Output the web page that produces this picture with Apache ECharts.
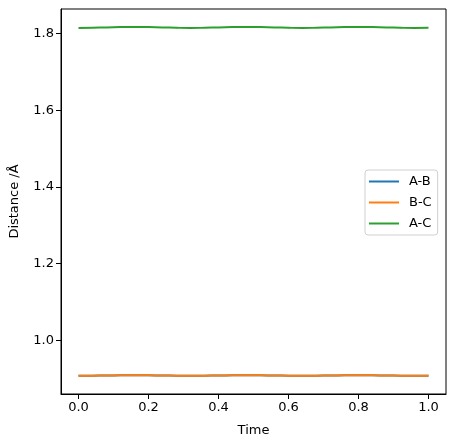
<!DOCTYPE html>
<html>
<head>
<meta charset="utf-8">
<script src="https://cdn.jsdelivr.net/npm/echarts@6/dist/echarts.min.js"></script>
<style>
  html, body { margin: 0; padding: 0; background: #fff; }
  #chart { width: 458px; height: 442px; }
</style>
</head>
<body>
<div id="chart"></div>
<script>
// values
var times = [0, 0.04, 0.08, 0.12, 0.16, 0.20, 0.24, 0.28, 0.32, 0.36, 0.40, 0.44, 0.48,
             0.52, 0.56, 0.60, 0.64, 0.68, 0.72, 0.76, 0.80, 0.84, 0.88, 0.92, 0.96, 1.0];
var distAB = [0.9077, 0.9079, 0.9083, 0.9087, 0.9089, 0.9087, 0.9083, 0.9079, 0.9077, 0.9079, 0.9083, 0.9087, 0.9089,
              0.9087, 0.9083, 0.9079, 0.9077, 0.9079, 0.9083, 0.9087, 0.9089, 0.9087, 0.9083, 0.9079, 0.9077, 0.9078];
var distBC = [0.9077, 0.9079, 0.9083, 0.9087, 0.9089, 0.9087, 0.9083, 0.9079, 0.9077, 0.9079, 0.9083, 0.9087, 0.9089,
              0.9087, 0.9083, 0.9079, 0.9077, 0.9079, 0.9083, 0.9087, 0.9089, 0.9087, 0.9083, 0.9079, 0.9077, 0.9078];
var distAC = [1.8145, 1.8150, 1.8160, 1.8168, 1.8172, 1.8168, 1.8160, 1.8150, 1.8145, 1.8150, 1.8160, 1.8168, 1.8172,
              1.8168, 1.8160, 1.8150, 1.8145, 1.8150, 1.8160, 1.8168, 1.8172, 1.8168, 1.8160, 1.8150, 1.8145, 1.8148];
var xTicks = [0, 0.2, 0.4, 0.6, 0.8, 1.0];
var yTicks = [1.0, 1.2, 1.4, 1.6, 1.8];

function pairs(xs, ys) {
    var out = [];
    for (var i = 0; i < xs.length; i++) out.push([xs[i], ys[i]]);
    return out;
}

var chart = echarts.init(document.getElementById('chart'));
var font = 'DejaVu Sans';
var option = {
    animation: false,
    textStyle: { fontFamily: font },
    grid: { left: 59, right: 12, top: 9, bottom: 48, show: true, borderColor: '#000', borderWidth: 1 },
    legend: {
        orient: 'vertical',
        left: 365,
        top: 170,
        padding: [5, 6, 5, 4],
        itemGap: 8,
        itemWidth: 30,
        itemHeight: 2,
        icon: 'rect',
        borderColor: '#d0d0d0',
        borderWidth: 1,
        borderRadius: 3,
        textStyle: { fontFamily: font, fontSize: 13, color: '#000', padding: [0, 0, 0, 5] },
        data: ['A-B', 'B-C', 'A-C']
    },
    xAxis: {
        type: 'value',
        min: -0.05,
        max: 1.05,
        name: 'Time',
        nameLocation: 'middle',
        nameGap: 30,
        nameTextStyle: { fontFamily: font, fontSize: 13, color: '#000' },
        splitLine: { show: false },
        axisLine: { show: true, onZero: false, lineStyle: { color: '#000' } },
        axisTick: { show: true, length: 5, customValues: xTicks, lineStyle: { color: '#000' } },
        axisLabel: {
            customValues: xTicks, fontSize: 13, color: '#000', margin: 7,
            formatter: function (v) { return v.toFixed(1); }
        }
    },
    yAxis: {
        type: 'value',
        min: 0.86,
        max: 1.864,
        name: 'Distance /Å',
        nameLocation: 'middle',
        nameGap: 40,
        nameTextStyle: { fontFamily: font, fontSize: 13, color: '#000' },
        splitLine: { show: false },
        axisLine: { show: true, onZero: false, lineStyle: { color: '#000' } },
        axisTick: { show: true, length: 5, customValues: yTicks, lineStyle: { color: '#000' } },
        axisLabel: {
            customValues: yTicks, fontSize: 13, color: '#000', margin: 7,
            formatter: function (v) { return v.toFixed(1); }
        }
    },
    series: [
        { name: 'A-B', type: 'line', showSymbol: false, smooth: true, color: '#1f77b4',
          lineStyle: { width: 2 }, data: pairs(times, distAB) },
        { name: 'B-C', type: 'line', showSymbol: false, smooth: true, color: '#ff7f0e',
          lineStyle: { width: 2 }, data: pairs(times, distBC) },
        { name: 'A-C', type: 'line', showSymbol: false, smooth: true, color: '#2ca02c',
          lineStyle: { width: 2 }, data: pairs(times, distAC) }
    ]
};
chart.setOption(option);
</script>
</body>
</html>
